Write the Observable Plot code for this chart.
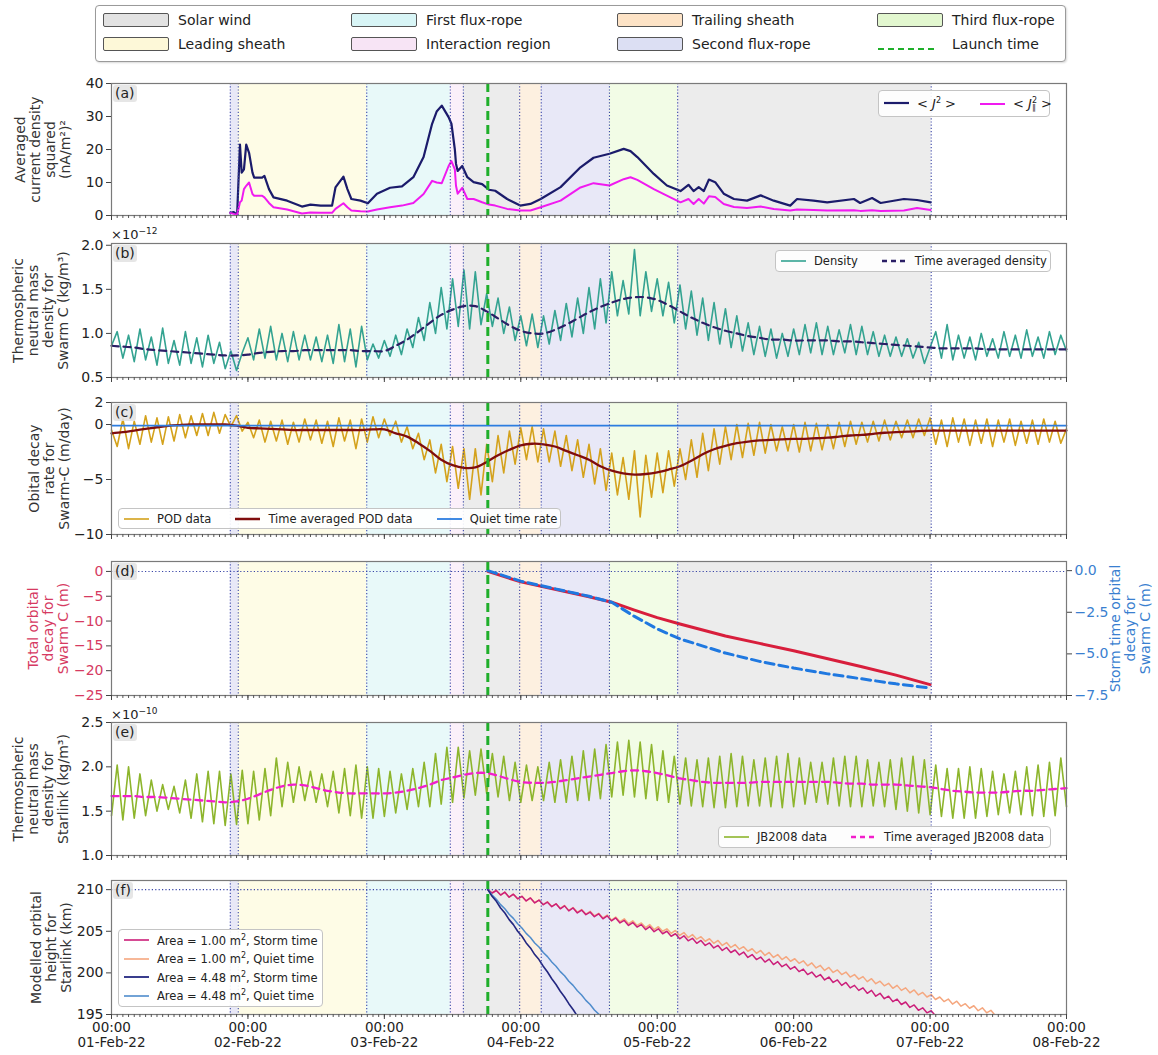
<!DOCTYPE html>
<html>
<head>
<meta charset="utf-8">
<script src="https://cdn.jsdelivr.net/npm/d3@7"></script>
<script src="https://cdn.jsdelivr.net/npm/@observablehq/plot@0.6"></script>
<style>
  html, body { margin: 0; padding: 0; background: #fff; }
  #root { position: relative; width: 1158px; height: 1055px; overflow: hidden; font-family: "DejaVu Sans", sans-serif; color: #222; }
  .box { position: absolute; background: rgba(255,255,255,0.9); border: 1px solid #c4c4c4; border-radius: 4px; font-size: 11.5px; color: #222; display: flex; align-items: center; box-sizing: border-box; white-space: nowrap; padding: 0 6px 0 5px; }
  .tag { position: absolute; font-size: 14px; background: rgba(226,226,226,0.85); border-radius: 3px; padding: 0 2px; line-height: 17px; color: #222; }
  .mult { position: absolute; font-size: 13px; color: #222; }
  .mult sup { font-size: 9px; }
</style>
</head>
<body>
<div id="root"></div>
<script>
// ---------------- DATA ----------------
// Event regions (hours after 01-Feb-22 00:00)
const regionStart = [20.9, 22.3, 44.9, 59.6, 61.9, 71.8, 75.6, 87.6, 99.6];
const regionEnd   = [22.3, 44.9, 59.6, 61.9, 71.8, 75.6, 87.6, 99.6, 144.2];
const regionType  = ["Second flux-rope", "Leading sheath", "First flux-rope", "Interaction region", "Solar wind", "Trailing sheath", "Second flux-rope", "Third flux-rope", "Solar wind"];
const launchTime = 66.2;
const legendNames = ["Solar wind", "Leading sheath", "First flux-rope", "Interaction region", "Trailing sheath", "Second flux-rope", "Third flux-rope", "Launch time"];
const dayLabels = ["00:00\n01-Feb-22", "00:00\n02-Feb-22", "00:00\n03-Feb-22", "00:00\n04-Feb-22", "00:00\n05-Feb-22", "00:00\n06-Feb-22", "00:00\n07-Feb-22", "00:00\n08-Feb-22"];

// (a) averaged current density squared
const jTimes = [20.9,21.5,22.1,22.6,22.9,23.3,23.7,24.2,24.8,25.1,26.5,26.9,27.7,28.5,30.9,33.5,35.0,36.8,38.8,39.4,40.8,41.5,42.2,43.8,45.1,46.7,49.0,51.1,53.1,54.9,56.4,57.2,58.1,59.3,59.8,60.4,60.6,60.9,61.7,62.6,63.7,65.2,66.4,67.5,69.6,71.9,73.7,75.5,79.0,82.5,84.8,87.6,90.1,91.3,92.5,95.4,97.7,100.1,101.5,102.4,103.3,104.2,105.1,106.2,107.7,109.5,111.8,114.2,116.5,119.4,120.6,123.5,125.9,130.6,131.7,133.8,135.3,139.4,141.7,144.1];
const jTotal = [0.8,1.0,0.2,21.5,13,14,21.5,19,13,11.5,11.5,12,8,5.5,4.5,2.7,3.3,3.0,3.0,8.5,11.8,8.0,5.0,4.5,3.7,6.6,8.4,8.8,11.6,17.7,27.8,31.5,33.3,29.8,27.8,20,15.7,13.5,15.0,11.6,10.1,9.5,7.8,7.5,5.0,3.0,3.5,5.0,8.6,14.6,17.5,18.7,20.2,19.5,17.7,12.6,9.1,7.4,9.3,7.4,8.6,7.4,10.9,10.1,6.6,5.0,4.5,6.1,4.5,3.0,5.0,4.5,4.0,5.0,3.8,5.3,3.8,5.0,4.7,4.0];
const jParallel = [0.8,0.5,0.2,4.0,4.5,8.0,9.0,10.0,6.5,6.0,6.0,5.5,3.8,2.5,1.8,0.6,0.9,0.8,0.8,2.0,3.7,2.5,1.5,1.3,1.2,1.8,2.5,3.0,3.8,6.5,10.5,10.0,9.8,15.0,16.5,14,9,6.6,8.4,5.0,5.0,4.0,3.3,3.0,2.0,1.5,1.5,2.5,4.5,8.5,9.8,9.1,11.0,11.6,10.8,8.0,6.0,4.0,5.0,3.5,5.0,3.6,5.8,5.6,3.5,2.6,2.3,2.7,2.0,1.5,1.8,1.7,1.5,1.6,1.4,1.6,1.4,1.5,2.3,1.7];

// (b) Swarm C density (x1e-12), hourly samples from 01-Feb 00:00
const swarmDensity = [
  .86,1.02,.72,.98,.68,1.05,.70,.96,.64,1.06,.66,.92,
  .64,1.02,.66,.95,.62,.98,.66,.90,.60,.80,.58,.78,
  .95,.70,1.05,.72,1.08,.70,1.00,.68,1.02,.70,.98,.70,
  .96,.68,.98,.66,1.10,.68,1.05,.62,1.08,.70,.88,.72,
  .92,.74,.98,.76,1.05,.84,1.18,.92,1.35,1.00,1.52,1.05,
  1.62,1.08,1.72,1.05,1.70,1.10,1.45,1.08,1.40,1.00,1.30,.92,
  1.20,.86,1.22,.84,1.20,.88,1.26,.92,1.34,.96,1.40,1.00,
  1.52,1.05,1.62,1.12,1.70,1.20,1.60,1.22,1.95,1.20,1.70,1.25,
  1.62,1.20,1.58,1.12,1.55,1.05,1.48,.98,1.40,.92,1.35,.88,
  1.28,.84,1.20,.80,1.12,.76,1.08,.74,1.05,.72,1.00,.74,
  1.05,.76,1.10,.78,1.12,.76,1.08,.76,1.04,.78,1.10,.76,
  1.08,.76,1.02,.74,.98,.74,.96,.74,.94,.72,.90,.66,
  .84,1.02,.72,1.10,.70,.98,.72,.96,.70,1.00,.74,.94,
  .72,1.02,.74,.98,.72,1.04,.74,.96,.72,1.02,.76,.98,
  .80];
// time averaged density, 2-hourly
const swarmDensityAvg = [
  .86,.85,.84,.82,.81,.80,.79,.78,.77,.76,.75,.75,
  .76,.78,.79,.80,.80,.81,.81,.81,.81,.81,.80,.80,
  .80,.86,.93,1.02,1.12,1.21,1.27,1.31,1.31,1.25,1.17,1.09,
  1.03,1.00,1.00,1.04,1.10,1.17,1.24,1.30,1.35,1.39,1.41,1.41,
  1.38,1.32,1.25,1.18,1.12,1.07,1.03,1.00,.97,.95,.93,.93,
  .92,.92,.92,.92,.91,.91,.90,.89,.88,.87,.86,.85,
  .84,.83,.83,.83,.83,.82,.82,.82,.82,.82,.82,.82,
  .82];

// (c) POD orbital decay rate (m/day), hourly
const podRate = [
  -.5,-2.0,.5,-2.2,.3,-1.8,.8,-1.6,.6,-1.8,.7,-1.5,
  .9,-1.2,.8,-1.0,1.0,-1.0,1.1,-.8,.9,-.2,.8,-.6,
  .2,-1.2,.4,-1.6,.3,-1.5,.4,-1.8,.2,-1.6,.5,-1.4,
  .4,-1.7,.3,-2.0,.6,-1.5,.4,-2.2,.5,-1.6,.7,-1.2,
  .5,-1.0,.3,-1.6,-.2,-2.2,-.8,-3.2,-1.4,-4.4,-1.8,-5.2,
  -2.0,-5.8,-2.2,-6.8,-2.2,-6.4,-1.8,-5.2,-1.0,-4.4,-.6,-3.6,
  -.3,-3.2,-.2,-3.4,-.4,-3.4,-.6,-3.8,-1.0,-4.2,-1.4,-4.8,
  -1.8,-5.4,-2.2,-6.0,-2.6,-6.4,-3.0,-6.8,-2.4,-8.4,-2.8,-6.6,
  -2.6,-6.2,-2.4,-5.6,-2.2,-5.0,-1.4,-4.8,-.8,-4.2,-.4,-3.6,
  -.2,-3.2,0,-3.0,.1,-2.8,.2,-2.6,0,-2.4,-.2,-2.4,
  0,-2.5,.2,-2.4,.1,-2.3,0,-2.2,.2,-2.0,.3,-1.8,
  .2,-1.6,.3,-1.5,.4,-1.4,.3,-1.2,.4,-1.2,.5,-1.0,
  .6,-1.8,.4,-2.0,.6,-1.6,.5,-1.9,.4,-1.7,.5,-2.0,
  .4,-1.6,.5,-1.9,.3,-1.7,.4,-1.8,.5,-1.6,.3,-1.7,
  -.4];
// time averaged POD, 2-hourly
const podRateAvg = [
  -.8,-.7,-.55,-.4,-.25,-.12,-.05,0,0,0,0,-.1,
  -.3,-.35,-.4,-.45,-.5,-.5,-.5,-.5,-.5,-.5,-.5,-.45,
  -.45,-.8,-1.1,-1.7,-2.4,-3.2,-3.7,-3.95,-3.9,-3.4,-2.8,-2.3,
  -1.9,-1.75,-1.8,-2.0,-2.4,-2.8,-3.2,-3.8,-4.2,-4.45,-4.55,-4.5,
  -4.35,-4.1,-3.8,-3.3,-2.7,-2.25,-1.95,-1.7,-1.55,-1.45,-1.4,-1.35,
  -1.3,-1.3,-1.25,-1.2,-1.1,-1.0,-.95,-.85,-.75,-.7,-.65,-.6,
  -.55,-.55,-.55,-.55,-.55,-.55,-.55,-.55,-.55,-.55,-.55,-.55,
  -.55];
const quietTimes = [0, 168];
const quietRate = [-0.1, -0.1];

// (d) orbital decay since launch
const decayTimes = [66.2, 72, 78, 84, 88, 92, 96, 100, 108, 114, 120, 126, 132, 138, 144];
const totalDecay = [0, -2.1, -3.6, -5.1, -6.2, -7.8, -9.3, -10.6, -13.0, -14.5, -16.0, -17.6, -19.2, -20.9, -22.8];
const stormDecay = [0, -0.63, -1.09, -1.54, -1.9, -2.75, -3.5, -4.1, -4.95, -5.45, -5.85, -6.2, -6.5, -6.8, -7.05];

// (e) JB2008 density for Starlink (x1e-10), hourly
const jbDensity = [
  1.45,2.02,1.40,2.00,1.42,1.92,1.45,1.85,1.50,1.80,1.52,1.78,
  1.48,1.85,1.42,1.92,1.38,1.95,1.36,1.95,1.34,1.92,1.35,1.96,
  1.36,1.95,1.40,1.98,1.45,2.10,1.55,2.05,1.60,2.00,1.62,1.95,
  1.60,1.92,1.55,1.95,1.48,1.98,1.45,2.02,1.42,2.00,1.42,1.98,
  1.44,1.95,1.48,1.92,1.52,1.98,1.55,2.05,1.55,2.15,1.58,2.22,
  1.60,2.22,1.65,2.18,1.68,2.20,1.70,2.15,1.66,2.12,1.62,2.05,
  1.60,2.02,1.62,2.00,1.62,2.05,1.60,2.08,1.60,2.12,1.62,2.18,
  1.62,2.20,1.64,2.25,1.66,2.28,1.68,2.30,1.66,2.28,1.64,2.25,
  1.62,2.18,1.60,2.12,1.58,2.10,1.56,2.08,1.55,2.10,1.54,2.12,
  1.54,2.15,1.55,2.12,1.56,2.08,1.56,2.10,1.55,2.12,1.54,2.15,
  1.55,2.10,1.58,2.05,1.60,2.05,1.58,2.10,1.56,2.12,1.55,2.12,
  1.55,2.08,1.56,2.05,1.55,2.08,1.52,2.10,1.50,2.12,1.48,2.08,
  1.46,2.02,1.44,1.98,1.42,1.98,1.42,2.00,1.42,1.98,1.44,1.95,
  1.46,1.92,1.48,1.95,1.46,2.00,1.45,2.02,1.44,2.05,1.45,2.10,
  1.55];
const jbDensityAvg = [
  1.67,1.67,1.67,1.66,1.66,1.65,1.64,1.63,1.62,1.61,1.60,1.61,
  1.64,1.69,1.74,1.78,1.80,1.79,1.76,1.73,1.71,1.70,1.70,1.70,
  1.70,1.71,1.73,1.76,1.80,1.85,1.88,1.91,1.93,1.93,1.90,1.86,
  1.83,1.82,1.82,1.83,1.85,1.87,1.89,1.91,1.93,1.95,1.96,1.95,
  1.93,1.90,1.87,1.85,1.83,1.82,1.82,1.82,1.82,1.83,1.83,1.83,
  1.83,1.83,1.83,1.83,1.82,1.81,1.81,1.80,1.80,1.80,1.79,1.78,
  1.77,1.75,1.73,1.72,1.71,1.71,1.71,1.72,1.73,1.73,1.74,1.75,
  1.76];

// (f) modelled Starlink orbital height (km), samples every 0.75 h from launch
const heightStart = 66.2, heightStep = 0.75;
const height100Storm = [
  210.0,209.6,209.9,209.35,209.7,209.1,209.45,208.9,209.2,208.65,
  209.0,208.4,208.75,208.2,208.5,207.95,208.3,207.7,208.05,207.45,
  207.8,207.2,207.55,207.0,207.3,206.75,207.1,206.5,206.85,206.25,
  206.6,206.0,206.3,205.7,206.05,205.5,205.8,205.2,205.55,204.95,
  205.3,204.7,205.0,204.4,204.7,204.1,204.45,203.85,204.15,203.55,
  203.9,203.3,203.6,203.0,203.3,202.7,203.05,202.45,202.75,202.15,
  202.5,201.85,202.2,201.6,201.9,201.3,201.65,201.0,201.35,200.75,
  201.05,200.45,200.75,200.15,200.45,199.8,200.1,199.5,199.8,199.15,
  199.5,198.85,199.15,198.5,198.85,198.2,198.5,197.9,198.2,197.55,
  197.9,197.2,197.55,196.9,197.2,196.55,196.85,196.2,196.5,195.85,
  196.15,195.5,195.8,195.2,195.45,194.85];
const height100Quiet = [
  210.0,209.6,209.9,209.35,209.7,209.1,209.45,208.9,209.2,208.65,
  209.0,208.45,208.75,208.2,208.55,208.0,208.3,207.75,208.1,207.5,
  207.85,207.3,207.6,207.05,207.4,206.85,207.15,206.6,206.95,206.35,
  206.7,206.15,206.5,205.9,206.25,205.7,206.0,205.45,205.8,205.2,
  205.55,205.0,205.3,204.75,205.1,204.5,204.85,204.25,204.6,204.05,
  204.35,203.8,204.1,203.55,203.9,203.3,203.65,203.05,203.4,202.85,
  203.15,202.6,202.9,202.35,202.7,202.1,202.45,201.85,202.2,201.6,
  201.95,201.4,201.7,201.15,201.45,200.85,201.2,200.6,200.9,200.3,
  200.65,200.05,200.35,199.8,200.1,199.5,199.8,199.25,199.55,198.95,
  199.3,198.7,199.0,198.45,198.75,198.15,198.5,197.9,198.2,197.6,
  197.95,197.35,197.65,197.1,197.4,196.8,197.1,196.55,196.85,196.25,
  196.6,196.0,196.3,195.75,196.05,195.45,195.8,195.2,195.5,194.9];
const height448Storm = [210.0,209.2,208.6,207.8,207.2,206.4,205.8,205.0,204.4,203.6,203.0,202.2,201.6,200.8,200.1,199.3,198.6,197.8,197.1,196.3,195.6,194.8];
const height448Quiet = [210.0,209.35,208.85,208.2,207.7,207.05,206.55,205.9,205.4,204.75,204.25,203.6,203.1,202.45,201.95,201.3,200.8,200.15,199.65,199.0,198.5,197.85,197.35,196.7,196.2,195.55,195.05,194.4];

// ---------------- STYLES ----------------
const regionFill = {
  "Solar wind": "#ececec", "Leading sheath": "#fefce6", "First flux-rope": "#e8f9f9",
  "Interaction region": "#fbf0fa", "Trailing sheath": "#fdf0e0", "Second flux-rope": "#e8e8f7", "Third flux-rope": "#f2fce6"
};
const legendFill = {
  "Solar wind": "#e2e2e2", "Leading sheath": "#fdf8d8", "First flux-rope": "#d8f5f6",
  "Interaction region": "#f7e4f5", "Trailing sheath": "#fde3c6", "Second flux-rope": "#dcdff3", "Third flux-rope": "#e2f7cf"
};
const LAUNCH = "#1faf2a", BOUND = "#3a46a8";
const X0 = 111, X1 = 1066, W = 1158;

// ---------------- BUILD ----------------
const root = document.getElementById("root");
const hours = d3.range(0, 169);
const hours2 = d3.range(0, 169, 2);
const dayTicks = d3.range(0, 169, 24);
const regions = regionStart.map((s, k) => ({start: s, end: regionEnd[k], type: regionType[k]}));
const boundaries = Array.from(new Set([...regionStart, ...regionEnd]));
const series = (times, vals) => vals.map((v, i) => ({t: times[i], v}));
const stepTimes = (n) => d3.range(n).map(i => heightStart + heightStep * i);

function panel(cfg) {
  const mt = 10, mb = cfg.mb ?? 10;
  const [y0, y1] = cfg.yDomain;
  const marks = [
    Plot.rect(regions, {x1: "start", x2: "end", y1: () => y0, y2: () => y1, fill: d => regionFill[d.type]}),
    ...(cfg.hline != null ? [Plot.ruleY([cfg.hline], {stroke: BOUND, strokeWidth: 1.1, strokeDasharray: "1.2,2.2"})] : []),
    ...cfg.marks,
    Plot.ruleX(boundaries, {stroke: BOUND, strokeWidth: 1.1, strokeDasharray: "1.2,2"}),
    Plot.ruleX([launchTime], {stroke: LAUNCH, strokeWidth: 3, strokeDasharray: "9,5"}),
    Plot.frame({stroke: "#7a7a7a", strokeWidth: 1.2}),
    Plot.axisY(cfg.yTicks, {anchor: "left", tickSize: 5, tickPadding: 3, tickFormat: cfg.yFormat, fill: cfg.tickColor || "#222", stroke: "#444", fontSize: 14, label: null}),
    Plot.axisX(hours, {tickSize: 3, tickFormat: () => "", stroke: "#555", label: null}),
    Plot.axisX(dayTicks, {tickSize: 5, tickPadding: 2, tickFormat: cfg.bottom ? (d => dayLabels[Math.round(d / 24)]) : (() => ""), stroke: "#444", fill: "#222", fontSize: 13.5, lineHeight: 1.12, label: null}),
    Plot.text([cfg.title], {text: d => d, frameAnchor: "left", dx: cfg.titleX - X0, rotate: -90, fontSize: 14, lineHeight: 1.07, textAnchor: "middle", fill: cfg.titleColor || "#333"}),
    ...(cfg.extra || [])
  ];
  const svg = Plot.plot({
    width: W, height: (cfg.bottomY - cfg.topY) + mt + mb,
    marginLeft: X0, marginRight: W - X1, marginTop: mt, marginBottom: mb,
    x: {domain: [0, 168]},
    y: {domain: cfg.yDomain},
    color: {type: "identity"},
    style: {fontFamily: "DejaVu Sans", fontSize: "14px", color: "#222", background: "transparent", overflow: "visible"},
    marks
  });
  svg.style.position = "absolute";
  svg.style.left = "0px";
  svg.style.top = (cfg.topY - mt) + "px";
  root.appendChild(svg);
}

// (a)
const aData = jTimes.map((t, i) => ({t, total: jTotal[i], par: jParallel[i]}));
panel({
  topY: 83, bottomY: 215, yDomain: [0, 40], yTicks: [0, 10, 20, 30, 40], hline: 0,
  title: "Averaged\ncurrent density\nsquared\n(nA/m²)²", titleX: 42,
  marks: [
    Plot.line(aData, {x: "t", y: "total", stroke: "#1b1b6b", strokeWidth: 2.2}),
    Plot.line(aData, {x: "t", y: "par", stroke: "#f01af0", strokeWidth: 2})
  ]
});
// (b)
panel({
  topY: 243, bottomY: 377, yDomain: [0.5, 2.02], yTicks: [0.5, 1.0, 1.5, 2.0], yFormat: d3.format(".1f"),
  title: "Thermospheric\nneutral mass\ndensity for\nSwarm C (kg/m³)", titleX: 40,
  marks: [
    Plot.line(series(hours, swarmDensity), {x: "t", y: "v", stroke: "#34a391", strokeWidth: 1.6}),
    Plot.line(series(hours2, swarmDensityAvg), {x: "t", y: "v", stroke: "#2b1f66", strokeWidth: 2.2, strokeDasharray: "7,5", curve: "catmull-rom"})
  ]
});
// (c)
panel({
  topY: 402, bottomY: 534, yDomain: [-10, 2], yTicks: [-10, -5, 0, 2],
  title: "Obital decay\nrate for\nSwarm-C (m/day)", titleX: 49,
  marks: [
    Plot.line(series(hours, podRate), {x: "t", y: "v", stroke: "#d4a21c", strokeWidth: 1.6}),
    Plot.line(series(hours2, podRateAvg), {x: "t", y: "v", stroke: "#800d0d", strokeWidth: 2.3, curve: "catmull-rom"}),
    Plot.line(series(quietTimes, quietRate), {x: "t", y: "v", stroke: "#2c7de0", strokeWidth: 1.8})
  ]
});
// (d) with twin axis
const RED = "#d81e3c", BLUE = "#1f78e0", LEFTTXT = "#d63a62", RIGHTTXT = "#3a7fd0";
const toLeft = d3.scaleLinear([-7.5, 0.55], [-25, 2]);
const rightTicks = [0, -2.5, -5, -7.5];
const dData = decayTimes.map((t, i) => ({t, total: totalDecay[i], storm: stormDecay[i]}));
panel({
  topY: 561, bottomY: 695, yDomain: [-25, 2], yTicks: [-25, -20, -15, -10, -5, 0], hline: 0,
  tickColor: LEFTTXT, titleColor: LEFTTXT,
  title: "Total orbital\ndecay for\nSwarm C (m)", titleX: 47.5,
  marks: [
    Plot.line(dData, {x: "t", y: "total", stroke: RED, strokeWidth: 3}),
    Plot.line(dData, {x: "t", y: d => toLeft(d.storm), stroke: BLUE, strokeWidth: 3, strokeDasharray: "9,5"})
  ],
  extra: [
    Plot.axisY(rightTicks.map(v => toLeft(v)), {anchor: "right", tickSize: 5, tickPadding: 3,
      tickFormat: v => d3.format(".1f")(Math.round(toLeft.invert(v) * 10) / 10), fill: RIGHTTXT, stroke: "#444", fontSize: 14, label: null}),
    Plot.text(["Storm time orbital\ndecay for\nSwarm C (m)"], {text: d => d, frameAnchor: "right", dx: 1130 - X1, rotate: -90, fontSize: 14, lineHeight: 1.07, textAnchor: "middle", fill: RIGHTTXT})
  ]
});
// (e)
panel({
  topY: 722, bottomY: 855, yDomain: [1.0, 2.5], yTicks: [1.0, 1.5, 2.0, 2.5], yFormat: d3.format(".1f"),
  title: "Thermospheric\nneutral mass\ndensity for\nStarlink (kg/m³)", titleX: 40,
  marks: [
    Plot.line(series(hours, jbDensity), {x: "t", y: "v", stroke: "#8db52c", strokeWidth: 1.6}),
    Plot.line(series(hours2, jbDensityAvg), {x: "t", y: "v", stroke: "#f21ecb", strokeWidth: 2.3, strokeDasharray: "7,5", curve: "catmull-rom"})
  ]
});
// (f)
panel({
  topY: 880, bottomY: 1014, yDomain: [195, 211.1], yTicks: [195, 200, 205, 210], hline: 210, mb: 40, bottom: true,
  title: "Modelled orbital\nheight for\nStarlink (km)", titleX: 51,
  marks: [
    Plot.line(series(stepTimes(height100Quiet.length), height100Quiet), {x: "t", y: "v", stroke: "#f5a77f", strokeWidth: 1.5, clip: true}),
    Plot.line(series(stepTimes(height100Storm.length), height100Storm), {x: "t", y: "v", stroke: "#cc1f7a", strokeWidth: 1.5, clip: true}),
    Plot.line(series(stepTimes(height448Quiet.length), height448Quiet), {x: "t", y: "v", stroke: "#4f8ccc", strokeWidth: 1.5, clip: true}),
    Plot.line(series(stepTimes(height448Storm.length), height448Storm), {x: "t", y: "v", stroke: "#232780", strokeWidth: 1.6, clip: true})
  ]
});

// ---------------- HTML OVERLAYS ----------------
function el(tag, cls, style, html) {
  const e = document.createElement(tag);
  if (cls) e.className = cls;
  Object.assign(e.style, style || {});
  if (html != null) e.innerHTML = html;
  root.appendChild(e);
  return e;
}
// Top legend
el("div", null, {position: "absolute", left: "95px", top: "5px", width: "971px", height: "57px", boxSizing: "border-box",
  border: "1px solid #9a9a9a", borderRadius: "4px", background: "#fff", boxShadow: "1px 1px 2px rgba(0,0,0,0.15)"});
const colX = [103, 351, 617, 877], rowY = [20, 44];
legendNames.forEach((name, k) => {
  const x = colX[Math.floor(k / 2)], y = rowY[k % 2];
  if (name === "Launch time") {
    el("div", null, {position: "absolute", left: x + "px", top: (y - 5) + "px", width: "62px", height: "10px"},
      `<svg width="62" height="10"><line x1="1" y1="5" x2="61" y2="5" stroke="${LAUNCH}" stroke-width="2" stroke-dasharray="6,4"/></svg>`);
  } else {
    el("div", null, {position: "absolute", left: x + "px", top: (y - 7) + "px", width: "66px", height: "14px", boxSizing: "border-box",
      background: legendFill[name], border: "1px solid #555", borderRadius: "2px"});
  }
  el("div", null, {position: "absolute", left: (x + 75) + "px", top: (y - 9) + "px", fontSize: "14px", lineHeight: "18px", color: "#222"}, name);
});

// panel tags
[["(a)", 83], ["(b)", 243], ["(c)", 402], ["(d)", 561], ["(e)", 722], ["(f)", 880]].forEach(([t, y]) =>
  el("div", "tag", {left: "113px", top: (y + 2) + "px"}, t));
el("div", "mult", {left: "111px", top: "226px"}, "×10<sup>−12</sup>");
el("div", "mult", {left: "111px", top: "706px"}, "×10<sup>−10</sup>");

// panel legends
function panelLegend(pos, items, vertical, fontSize) {
  const box = el("div", "box", pos);
  if (fontSize) box.style.fontSize = fontSize;
  if (vertical) { box.style.flexDirection = "column"; box.style.alignItems = "flex-start"; box.style.justifyContent = "center"; }
  items.forEach((it, k) => {
    const row = document.createElement("div");
    row.style.display = "flex"; row.style.alignItems = "center";
    if (!vertical && k < items.length - 1) row.style.marginRight = "24px";
    if (vertical) row.style.height = "18.5px";
    row.innerHTML = `<svg width="25" height="10" style="overflow:visible"><line x1="0" y1="5" x2="25" y2="5" stroke="${it.color}" stroke-width="${it.width}" ${it.dash ? `stroke-dasharray="${it.dash}"` : ""}/></svg><span style="margin-left:8px">${it.label}</span>`;
    box.appendChild(row);
  });
}
panelLegend({left: "878px", top: "90px", height: "27px", width: "172px", fontSize: "13px"}, [
  {color: "#1b1b6b", width: 2.2, label: "&lt; <i>J</i><sup style='font-size:8px'>2</sup> &gt;"},
  {color: "#f01af0", width: 2, label: "&lt; <i>J</i><span style='display:inline-flex;flex-direction:column;font-size:8px;line-height:7px;vertical-align:middle'><span>2</span><span>∥</span></span> &gt;"}
]);
panelLegend({left: "775px", top: "250px", height: "22px", width: "276px"}, [
  {color: "#34a391", width: 1.6, label: "Density"},
  {color: "#2b1f66", width: 2.5, dash: "5,4", label: "Time averaged density"}
]);
panelLegend({left: "118px", top: "508px", height: "21px", width: "443px"}, [
  {color: "#d4a21c", width: 1.6, label: "POD data"},
  {color: "#800d0d", width: 2.5, label: "Time averaged POD data"},
  {color: "#2c7de0", width: 1.8, label: "Quiet time rate"}
]);
panelLegend({right: "107px", top: "826px", height: "22px"}, [
  {color: "#8db52c", width: 1.6, label: "JB2008 data"},
  {color: "#f21ecb", width: 2.5, dash: "5,4", label: "Time averaged JB2008 data"}
]);
panelLegend({left: "118px", top: "929px", height: "78px", width: "205px"}, [
  {color: "#cc1f7a", width: 1.6, label: "Area = 1.00 m<sup style='font-size:8px'>2</sup>, Storm time"},
  {color: "#f5a77f", width: 1.6, label: "Area = 1.00 m<sup style='font-size:8px'>2</sup>, Quiet time"},
  {color: "#232780", width: 1.8, label: "Area = 4.48 m<sup style='font-size:8px'>2</sup>, Storm time"},
  {color: "#4f8ccc", width: 1.6, label: "Area = 4.48 m<sup style='font-size:8px'>2</sup>, Quiet time"}
], true);
</script>
</body>
</html>
